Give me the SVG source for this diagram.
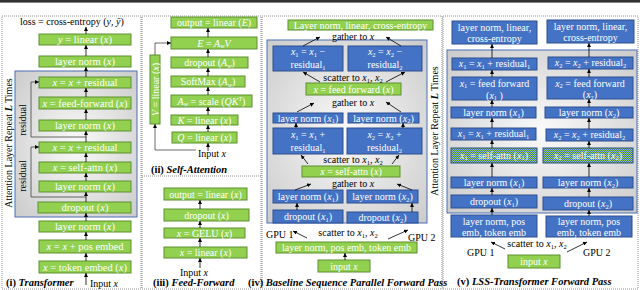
<svg xmlns="http://www.w3.org/2000/svg" width="640" height="290" viewBox="0 0 640 290">
<defs>
<style>
.g{fill:#92d050;stroke:#5e8f2f;stroke-width:1}
.b{fill:#4472c4;stroke:#2f4f8f;stroke-width:1}
.c{fill:url(#chk);stroke:#2f4f8f;stroke-width:1}
.reg{fill:url(#gr);stroke:#4a6fb5;stroke-width:1}
.pan{fill:none;stroke:#777;stroke-width:0.8;stroke-dasharray:1 1}
text{font-family:"Liberation Serif","Times New Roman",serif}
.t{font-size:10px;fill:#fff;text-anchor:middle}
.t1{font-size:10.5px;fill:#fff;text-anchor:middle}
.k{font-size:10px;fill:#000;text-anchor:middle}
.kl{font-size:10px;fill:#000}
.cap{font-size:10.5px;fill:#000;font-weight:bold}
.i{font-style:italic}
.s{font-size:6.5px}
.ln{fill:none;stroke:#000;stroke-width:0.8}
.lg{fill:none;stroke:#444;stroke-width:0.8}
</style>
<radialGradient id="gr" cx="0.5" cy="0.5" r="0.75">
<stop offset="0" stop-color="#fafafa"/>
<stop offset="1" stop-color="#c8c8c8"/>
</radialGradient>
<pattern id="chk" width="2" height="2" patternUnits="userSpaceOnUse">
<rect width="2" height="2" fill="#4472c4"/>
<rect width="1" height="1" fill="#92d050"/>
<rect x="1" y="1" width="1" height="1" fill="#92d050"/>
</pattern>
<marker id="a" viewBox="0 0 6 6" refX="6" refY="3" markerWidth="4" markerHeight="4" markerUnits="userSpaceOnUse" orient="auto">
<path d="M0,0 L6,3 L0,6 z" fill="#000"/>
</marker>
</defs>
<rect x="0" y="0" width="640" height="2.6" fill="#333"/>
<!-- panel borders -->
<rect class="pan" x="2" y="16" width="139" height="273"/>
<rect class="pan" x="142" y="16" width="119" height="273"/>
<line class="pan" x1="142" y1="176" x2="261" y2="176"/>
<rect class="pan" x="262" y="16" width="180" height="273"/>
<rect class="pan" x="443" y="16" width="195" height="273"/>

<!-- ================= Panel (i) ================= -->
<g id="p1-region"><rect class="reg" x="15" y="71" width="122" height="146"/></g>
<g id="p1-loss"><text class="kl" x="20" y="25" font-size="11.2">loss = cross-entropy (<tspan class="i">y</tspan>, <tspan class="i">ȳ</tspan>)</text></g>
<g id="p1-linear"><rect class="g" x="39" y="34" width="92" height="11"/><text class="t1" x="85" y="43"><tspan class="i">y</tspan> = linear (<tspan class="i">x</tspan>)</text></g>
<g id="p1-ln3"><rect class="g" x="39" y="56" width="92" height="11"/><text class="t1" x="85" y="65">layer norm (<tspan class="i">x</tspan>)</text></g>
<g id="p1-res2"><rect class="g" x="39" y="77" width="92" height="11"/><text class="t1" x="85" y="86"><tspan class="i">x</tspan> = <tspan class="i">x</tspan> + residual</text></g>
<g id="p1-ff"><rect class="g" x="39" y="97" width="92" height="12"/><text class="t1" x="85" y="106.5"><tspan class="i">x</tspan> = feed-forward (<tspan class="i">x</tspan>)</text></g>
<g id="p1-ln2"><rect class="g" x="39" y="120" width="92" height="11"/><text class="t1" x="85" y="129">layer norm (<tspan class="i">x</tspan>)</text></g>
<g id="p1-res1"><rect class="g" x="39" y="142" width="92" height="11"/><text class="t1" x="85" y="151"><tspan class="i">x</tspan> = <tspan class="i">x</tspan> + residual</text></g>
<g id="p1-sa"><rect class="g" x="39" y="162" width="92" height="11"/><text class="t1" x="85" y="171"><tspan class="i">x</tspan> = self-attn (<tspan class="i">x</tspan>)</text></g>
<g id="p1-ln1"><rect class="g" x="39" y="181" width="92" height="11"/><text class="t1" x="85" y="190">layer norm (<tspan class="i">x</tspan>)</text></g>
<g id="p1-drop"><rect class="g" x="38" y="202" width="93" height="11"/><text class="t1" x="85" y="211">dropout (<tspan class="i">x</tspan>)</text></g>
<g id="p1-ln0"><rect class="g" x="39" y="221" width="92" height="11"/><text class="t1" x="85" y="230">layer norm (<tspan class="i">x</tspan>)</text></g>
<g id="p1-pos"><rect class="g" x="39" y="240" width="92" height="13"/><text class="t1" x="85" y="250"><tspan class="i">x</tspan> = <tspan class="i">x</tspan> + pos embed</text></g>
<g id="p1-tok"><rect class="g" x="39" y="261" width="92" height="12"/><text class="t1" x="85" y="270.5"><tspan class="i">x</tspan> = token embed (<tspan class="i">x</tspan>)</text></g>
<g id="p1-labels">
<text class="kl" x="0" y="0" font-size="10.5" transform="translate(12,143) rotate(-90)" text-anchor="middle">Attention Layer Repeat <tspan class="i" font-weight="bold">L</tspan> Times</text>
<text class="kl" x="0" y="0" transform="translate(26,120) rotate(-90)" text-anchor="middle">residual</text>
<text class="kl" x="0" y="0" transform="translate(26,176) rotate(-90)" text-anchor="middle">residual</text>
<text class="cap" x="6" y="286">(i) <tspan class="i">Transformer</tspan></text>
<text class="kl" x="90" y="287">Input <tspan class="i">x</tspan></text>
</g>

<!-- ================= Panel (ii) ================= -->
<g id="p2-out"><rect class="g" x="171" y="17" width="86" height="11"/><text class="t" x="214" y="26">output = linear (<tspan class="i">E</tspan>)</text></g>
<g id="p2-e"><rect class="g" x="171" y="37" width="86" height="12"/><text class="t" x="214" y="46.5"><tspan class="i">E</tspan> = <tspan class="i">A</tspan><tspan class="i s" dy="1.5">w</tspan><tspan class="i" dy="-1.5">V</tspan></text></g>
<g id="p2-drop"><rect class="g" x="171" y="57" width="77" height="11"/><text class="t" x="209.5" y="66">dropout (<tspan class="i">A</tspan><tspan class="i s" dy="1.5">w</tspan><tspan dy="-1.5">)</tspan></text></g>
<g id="p2-sm"><rect class="g" x="171" y="76" width="74" height="11"/><text class="t" x="208" y="85">SoftMax (<tspan class="i">A</tspan><tspan class="i s" dy="1.5">w</tspan><tspan dy="-1.5">)</tspan></text></g>
<g id="p2-scale"><rect class="g" x="171" y="95" width="81" height="12"/><text class="t" x="211.5" y="104.5"><tspan class="i">A</tspan><tspan class="i s" dy="1.5">w</tspan><tspan dy="-1.5"> = scale (</tspan><tspan class="i">QK</tspan><tspan class="i s" dy="-3.5">T</tspan><tspan dy="3.5">)</tspan></text></g>
<g id="p2-k"><rect class="g" x="171" y="115" width="67" height="10"/><text class="t" x="204.5" y="123.5"><tspan class="i">K</tspan> = linear (<tspan class="i">x</tspan>)</text></g>
<g id="p2-q"><rect class="g" x="172" y="132" width="65" height="11"/><text class="t" x="204.5" y="141"><tspan class="i">Q</tspan> = linear (<tspan class="i">x</tspan>)</text></g>
<g id="p2-v"><rect class="g" x="150" y="55" width="10" height="69"/><text class="t" x="0" y="0" transform="translate(158.5,89.5) rotate(-90)"><tspan class="i">V</tspan> = linear (<tspan class="i">x</tspan>)</text></g>
<g id="p2-labels">
<text class="kl" x="198" y="157">Input <tspan class="i">x</tspan></text>
<text class="cap" x="151" y="173">(ii) <tspan class="i">Self-Attention</tspan></text>
</g>

<!-- ================= Panel (iii) ================= -->
<g id="p3-out"><rect class="g" x="164" y="188" width="83" height="12"/><text class="t" x="205.5" y="197.5">output = linear (<tspan class="i">x</tspan>)</text></g>
<g id="p3-drop"><rect class="g" x="164" y="209" width="85" height="12"/><text class="t" x="206.5" y="218.5">dropout (<tspan class="i">x</tspan>)</text></g>
<g id="p3-gelu"><rect class="g" x="164" y="228" width="81" height="10"/><text class="t" x="204.5" y="236.5"><tspan class="i">x</tspan> = GELU (<tspan class="i">x</tspan>)</text></g>
<g id="p3-lin"><rect class="g" x="164" y="247" width="83" height="11"/><text class="t" x="205.5" y="256"><tspan class="i">x</tspan> = linear (<tspan class="i">x</tspan>)</text></g>
<g id="p3-labels">
<text class="kl" x="180" y="276">Input <tspan class="i">x</tspan></text>
<text class="cap" x="153" y="286">(iii) <tspan class="i">Feed-Forward</tspan></text>
</g>

<!-- ================= Panel (iv) ================= -->
<g id="p4-region"><rect class="reg" x="267" y="40" width="160" height="183"/></g>
<g id="p4-top"><rect class="g" x="288" y="20" width="145" height="10"/><text class="t" x="360.5" y="28.5">Layer norm, linear, cross-entropy</text></g>
<g id="p4-r1a"><rect class="b" x="273" y="46" width="70" height="25"/><text class="t" x="308" y="55"><tspan class="i">x</tspan><tspan class="s" dy="1.5">1</tspan><tspan dy="-1.5"> = </tspan><tspan class="i">x</tspan><tspan class="s" dy="1.5">1</tspan><tspan dy="-1.5"> −</tspan></text><text class="t" x="308" y="68">residual<tspan class="s" dy="1.5">1</tspan></text></g>
<g id="p4-r1b"><rect class="b" x="348" y="46" width="74" height="25"/><text class="t" x="385" y="55"><tspan class="i">x</tspan><tspan class="s" dy="1.5">2</tspan><tspan dy="-1.5"> = </tspan><tspan class="i">x</tspan><tspan class="s" dy="1.5">2</tspan><tspan dy="-1.5"> −</tspan></text><text class="t" x="385" y="68">residual<tspan class="s" dy="1.5">2</tspan></text></g>
<g id="p4-ff"><rect class="g" x="306" y="83" width="95" height="12"/><text class="t" x="353.5" y="92.5"><tspan class="i">x</tspan> = feed forward (<tspan class="i">x</tspan>)</text></g>
<g id="p4-ln2a"><rect class="b" x="273" y="113" width="70" height="10"/><text class="t" x="308" y="121.5">layer norm (<tspan class="i">x</tspan><tspan class="s" dy="1.5">1</tspan><tspan dy="-1.5">)</tspan></text></g>
<g id="p4-ln2b"><rect class="b" x="348" y="113" width="71" height="10"/><text class="t" x="383.5" y="121.5">layer norm (<tspan class="i">x</tspan><tspan class="s" dy="1.5">2</tspan><tspan dy="-1.5">)</tspan></text></g>
<g id="p4-r0a"><rect class="b" x="273" y="128" width="70" height="26"/><text class="t" x="308" y="138"><tspan class="i">x</tspan><tspan class="s" dy="1.5">1</tspan><tspan dy="-1.5"> = </tspan><tspan class="i">x</tspan><tspan class="s" dy="1.5">1</tspan><tspan dy="-1.5"> +</tspan></text><text class="t" x="308" y="151">residual<tspan class="s" dy="1.5">1</tspan></text></g>
<g id="p4-r0b"><rect class="b" x="347" y="128" width="75" height="26"/><text class="t" x="384.5" y="138"><tspan class="i">x</tspan><tspan class="s" dy="1.5">2</tspan><tspan dy="-1.5"> = </tspan><tspan class="i">x</tspan><tspan class="s" dy="1.5">2</tspan><tspan dy="-1.5"> +</tspan></text><text class="t" x="384.5" y="151">residual<tspan class="s" dy="1.5">2</tspan></text></g>
<g id="p4-sa"><rect class="g" x="302" y="166" width="98" height="11"/><text class="t" x="351" y="175"><tspan class="i">x</tspan> = self-attn (<tspan class="i">x</tspan>)</text></g>
<g id="p4-ln1a"><rect class="b" x="273" y="190" width="70" height="13"/><text class="t" x="308" y="200">layer norm (<tspan class="i">x</tspan><tspan class="s" dy="1.5">1</tspan><tspan dy="-1.5">)</tspan></text></g>
<g id="p4-ln1b"><rect class="b" x="347" y="190" width="71" height="13"/><text class="t" x="382.5" y="200">layer norm (<tspan class="i">x</tspan><tspan class="s" dy="1.5">2</tspan><tspan dy="-1.5">)</tspan></text></g>
<g id="p4-da"><rect class="b" x="273" y="210" width="70" height="13"/><text class="t" x="308" y="220">dropout (<tspan class="i">x</tspan><tspan class="s" dy="1.5">1</tspan><tspan dy="-1.5">)</tspan></text></g>
<g id="p4-db"><rect class="b" x="347" y="212" width="71" height="11"/><text class="t" x="382.5" y="221">dropout (<tspan class="i">x</tspan><tspan class="s" dy="1.5">2</tspan><tspan dy="-1.5">)</tspan></text></g>
<g id="p4-emb"><rect class="g" x="276" y="242" width="141" height="11"/><text class="t" x="346.5" y="251">layer norm, pos emb, token emb</text></g>
<g id="p4-in"><rect class="g" x="318" y="260" width="52" height="12"/><text class="t" x="344" y="269.5">input <tspan class="i">x</tspan></text></g>
<g id="p4-labels">
<text class="k" x="353" y="40">gather to <tspan class="i">x</tspan></text>
<text class="k" x="353" y="81">scatter to <tspan class="i">x</tspan><tspan class="s" dy="1.5">1</tspan><tspan dy="-1.5">, </tspan><tspan class="i">x</tspan><tspan class="s" dy="1.5">2</tspan></text>
<text class="k" x="353" y="106">gather to <tspan class="i">x</tspan></text>
<text class="k" x="353" y="163">scatter to <tspan class="i">x</tspan><tspan class="s" dy="1.5">1</tspan><tspan dy="-1.5">, </tspan><tspan class="i">x</tspan><tspan class="s" dy="1.5">2</tspan></text>
<text class="k" x="353" y="187">gather to <tspan class="i">x</tspan></text>
<text class="k" x="348" y="236">scatter to <tspan class="i">x</tspan><tspan class="s" dy="1.5">1</tspan><tspan dy="-1.5">, </tspan><tspan class="i">x</tspan><tspan class="s" dy="1.5">2</tspan></text>
<text class="kl" x="266" y="238">GPU 1</text>
<text class="kl" x="408" y="241">GPU 2</text>
<text class="kl" x="0" y="0" font-size="10.5" transform="translate(438,131) rotate(-90)" text-anchor="middle">Attention Layer Repeat <tspan class="i" font-weight="bold">L</tspan> Times</text>
<text class="cap" x="248" y="286">(iv) <tspan class="i">Baseline Sequence Parallel Forward Pass</tspan></text>
</g>

<!-- ================= Panel (v) ================= -->
<g id="p5-region"><rect class="reg" x="447" y="50" width="190" height="163"/></g>
<g id="p5-topa"><rect class="b" x="452" y="21" width="85" height="23"/><text class="t" x="494.5" y="30.5">layer norm, linear,</text><text class="t" x="494.5" y="42">cross-entropy</text></g>
<g id="p5-topb"><rect class="b" x="547" y="20" width="87" height="23"/><text class="t" x="590.5" y="29.5">layer norm, linear,</text><text class="t" x="590.5" y="41">cross-entropy</text></g>
<g id="p5-r1a"><rect class="b" x="452" y="58" width="85" height="12"/><text class="t" x="494.5" y="67"><tspan class="i">x</tspan><tspan class="s" dy="1.5">1</tspan><tspan dy="-1.5"> = </tspan><tspan class="i">x</tspan><tspan class="s" dy="1.5">1</tspan><tspan dy="-1.5"> + residual</tspan><tspan class="s" dy="1.5">1</tspan></text></g>
<g id="p5-r1b"><rect class="b" x="548" y="57" width="85" height="12"/><text class="t" x="590.5" y="66"><tspan class="i">x</tspan><tspan class="s" dy="1.5">2</tspan><tspan dy="-1.5"> = </tspan><tspan class="i">x</tspan><tspan class="s" dy="1.5">2</tspan><tspan dy="-1.5"> + residual</tspan><tspan class="s" dy="1.5">2</tspan></text></g>
<g id="p5-ffa"><rect class="b" x="452" y="77" width="85" height="23"/><text class="t" x="494.5" y="86.5"><tspan class="i">x</tspan><tspan class="s" dy="1.5">1</tspan><tspan dy="-1.5"> = feed forward</tspan></text><text class="t" x="494.5" y="98.5">(<tspan class="i">x</tspan><tspan class="s" dy="1.5">1</tspan><tspan dy="-1.5"> )</tspan></text></g>
<g id="p5-ffb"><rect class="b" x="547" y="77" width="86" height="22"/><text class="t" x="590" y="86.5"><tspan class="i">x</tspan><tspan class="s" dy="1.5">2</tspan><tspan dy="-1.5"> = feed forward</tspan></text><text class="t" x="590" y="98">(<tspan class="i">x</tspan><tspan class="s" dy="1.5">2</tspan><tspan dy="-1.5">)</tspan></text></g>
<g id="p5-ln2a"><rect class="b" x="451" y="107" width="85" height="11"/><text class="t" x="493.5" y="116">layer norm (<tspan class="i">x</tspan><tspan class="s" dy="1.5">1</tspan><tspan dy="-1.5">)</tspan></text></g>
<g id="p5-ln2b"><rect class="b" x="545" y="107" width="88" height="11"/><text class="t" x="589" y="116">layer norm (<tspan class="i">x</tspan><tspan class="s" dy="1.5">2</tspan><tspan dy="-1.5">)</tspan></text></g>
<g id="p5-r0a"><rect class="b" x="451" y="128" width="85" height="12"/><text class="t" x="493.5" y="137"><tspan class="i">x</tspan><tspan class="s" dy="1.5">1</tspan><tspan dy="-1.5"> = </tspan><tspan class="i">x</tspan><tspan class="s" dy="1.5">1</tspan><tspan dy="-1.5"> + residual</tspan><tspan class="s" dy="1.5">1</tspan></text></g>
<g id="p5-r0b"><rect class="b" x="546" y="129" width="87" height="12"/><text class="t" x="589.5" y="138"><tspan class="i">x</tspan><tspan class="s" dy="1.5">2</tspan><tspan dy="-1.5"> = </tspan><tspan class="i">x</tspan><tspan class="s" dy="1.5">2</tspan><tspan dy="-1.5"> + residual</tspan><tspan class="s" dy="1.5">2</tspan></text></g>
<g id="p5-saa"><rect class="c" x="451" y="148" width="86" height="15"/><text class="t" x="494" y="158.5"><tspan class="i">x</tspan><tspan class="s" dy="1.5">1</tspan><tspan dy="-1.5"> = self-attn (</tspan><tspan class="i">x</tspan><tspan class="s" dy="1.5">1</tspan><tspan dy="-1.5">)</tspan></text></g>
<g id="p5-sab"><rect class="c" x="543" y="148" width="90" height="15"/><text class="t" x="588" y="158.5"><tspan class="i">x</tspan><tspan class="s" dy="1.5">2</tspan><tspan dy="-1.5"> = self-attn (</tspan><tspan class="i">x</tspan><tspan class="s" dy="1.5">2</tspan><tspan dy="-1.5">)</tspan></text></g>
<g id="p5-ln1a"><rect class="b" x="451" y="177" width="86" height="11"/><text class="t" x="494" y="186">layer norm (<tspan class="i">x</tspan><tspan class="s" dy="1.5">1</tspan><tspan dy="-1.5">)</tspan></text></g>
<g id="p5-ln1b"><rect class="b" x="543" y="177" width="90" height="11"/><text class="t" x="588" y="186">layer norm (<tspan class="i">x</tspan><tspan class="s" dy="1.5">2</tspan><tspan dy="-1.5">)</tspan></text></g>
<g id="p5-da"><rect class="b" x="451" y="195" width="86" height="13"/><text class="t" x="494" y="205">dropout (<tspan class="i">x</tspan><tspan class="s" dy="1.5">1</tspan><tspan dy="-1.5">)</tspan></text></g>
<g id="p5-db"><rect class="b" x="543" y="197" width="90" height="13"/><text class="t" x="588" y="207">dropout (<tspan class="i">x</tspan><tspan class="s" dy="1.5">2</tspan><tspan dy="-1.5">)</tspan></text></g>
<g id="p5-emba"><rect class="b" x="451" y="215" width="86" height="22"/><text class="t" x="494" y="224.5">layer norm, pos</text><text class="t" x="494" y="235.5">emb, token emb</text></g>
<g id="p5-embb"><rect class="b" x="546" y="216" width="86" height="21"/><text class="t" x="589" y="225">layer norm, pos</text><text class="t" x="589" y="235.5">emb, token emb</text></g>
<g id="p5-in"><rect class="g" x="508" y="255" width="52" height="13"/><text class="t" x="534" y="265">input <tspan class="i">x</tspan></text></g>
<g id="p5-labels">
<text class="k" x="537" y="247">scatter to <tspan class="i">x</tspan><tspan class="s" dy="1.5">1</tspan><tspan dy="-1.5">, </tspan><tspan class="i">x</tspan><tspan class="s" dy="1.5">2</tspan></text>
<text class="kl" x="467" y="256">GPU 1</text>
<text class="kl" x="583" y="256">GPU 2</text>
<text class="cap" x="457" y="285">(v) <tspan class="i">LSS-Transformer Forward Pass</tspan></text>
</g>

<!-- ================= Connectors ================= -->
<g id="connectors">
<!-- panel i -->
<line class="ln" x1="86" y1="285" x2="86" y2="273" marker-end="url(#a)"/>
<line class="ln" x1="86" y1="261" x2="86" y2="253" marker-end="url(#a)"/>
<line class="ln" x1="86" y1="240" x2="86" y2="232" marker-end="url(#a)"/>
<line class="ln" x1="86" y1="221" x2="86" y2="213" marker-end="url(#a)"/>
<line class="ln" x1="86" y1="202" x2="86" y2="192" marker-end="url(#a)"/>
<line class="ln" x1="86" y1="181" x2="86" y2="173" marker-end="url(#a)"/>
<line class="ln" x1="86" y1="162" x2="86" y2="153" marker-end="url(#a)"/>
<line class="ln" x1="86" y1="142" x2="86" y2="131" marker-end="url(#a)"/>
<line class="ln" x1="86" y1="120" x2="86" y2="109" marker-end="url(#a)"/>
<line class="ln" x1="86" y1="97" x2="86" y2="88" marker-end="url(#a)"/>
<line class="ln" x1="86" y1="77" x2="86" y2="67" marker-end="url(#a)"/>
<line class="ln" x1="86" y1="56" x2="86" y2="45" marker-end="url(#a)"/>
<line class="ln" x1="86" y1="34" x2="86" y2="27" marker-end="url(#a)"/>
<path class="lg" d="M86,137 H31 V82 H39" marker-end="url(#a)"/>
<path class="lg" d="M86,197 H31 V147 H39" marker-end="url(#a)"/>
<!-- panel ii -->
<line class="ln" x1="208" y1="151" x2="208" y2="143" marker-end="url(#a)"/>
<line class="ln" x1="208" y1="132" x2="208" y2="125" marker-end="url(#a)"/>
<line class="ln" x1="208" y1="115" x2="208" y2="107" marker-end="url(#a)"/>
<line class="ln" x1="208" y1="95" x2="208" y2="87" marker-end="url(#a)"/>
<line class="ln" x1="208" y1="76" x2="208" y2="68" marker-end="url(#a)"/>
<line class="ln" x1="208" y1="57" x2="208" y2="49" marker-end="url(#a)"/>
<line class="ln" x1="208" y1="37" x2="208" y2="28" marker-end="url(#a)"/>
<path class="lg" d="M196,150 H155 V124" marker-end="url(#a)"/>
<path class="lg" d="M155,55 V43 H171" marker-end="url(#a)"/>
<!-- panel iii -->
<line class="ln" x1="200" y1="268" x2="200" y2="258" marker-end="url(#a)"/>
<line class="ln" x1="200" y1="247" x2="200" y2="238" marker-end="url(#a)"/>
<line class="ln" x1="200" y1="228" x2="200" y2="221" marker-end="url(#a)"/>
<line class="ln" x1="200" y1="209" x2="200" y2="200" marker-end="url(#a)"/>
<!-- panel iv -->
<line class="ln" x1="303" y1="46" x2="320" y2="37" marker-end="url(#a)"/>
<line class="ln" x1="401" y1="46" x2="386" y2="37" marker-end="url(#a)"/>
<line class="ln" x1="320" y1="82" x2="303" y2="72" marker-end="url(#a)"/>
<line class="ln" x1="386" y1="82" x2="405" y2="72" marker-end="url(#a)"/>
<line class="ln" x1="297" y1="112" x2="314" y2="103" marker-end="url(#a)"/>
<line class="ln" x1="401" y1="112" x2="386" y2="102" marker-end="url(#a)"/>
<line class="ln" x1="296" y1="128" x2="296" y2="123" marker-end="url(#a)"/>
<line class="ln" x1="403" y1="128" x2="403" y2="123" marker-end="url(#a)"/>
<line class="ln" x1="308" y1="164" x2="301" y2="155" marker-end="url(#a)"/>
<line class="ln" x1="392" y1="164" x2="399" y2="155" marker-end="url(#a)"/>
<line class="ln" x1="295" y1="190" x2="311" y2="184" marker-end="url(#a)"/>
<line class="ln" x1="412" y1="190" x2="397" y2="184" marker-end="url(#a)"/>
<line class="ln" x1="297" y1="210" x2="297" y2="203" marker-end="url(#a)"/>
<line class="ln" x1="412" y1="212" x2="412" y2="203" marker-end="url(#a)"/>
<line class="ln" x1="307" y1="238" x2="293" y2="231" marker-end="url(#a)"/>
<line class="ln" x1="388" y1="239" x2="408" y2="230" marker-end="url(#a)"/>
<line class="ln" x1="345" y1="260" x2="345" y2="253" marker-end="url(#a)"/>
<!-- panel v -->
<line class="ln" x1="492" y1="58" x2="492" y2="44" marker-end="url(#a)"/>
<line class="ln" x1="589" y1="57" x2="589" y2="43" marker-end="url(#a)"/>
<line class="ln" x1="492" y1="77" x2="492" y2="70" marker-end="url(#a)"/>
<line class="ln" x1="589" y1="77" x2="589" y2="69" marker-end="url(#a)"/>
<line class="ln" x1="492" y1="107" x2="492" y2="100" marker-end="url(#a)"/>
<line class="ln" x1="589" y1="107" x2="589" y2="99" marker-end="url(#a)"/>
<line class="ln" x1="492" y1="128" x2="492" y2="118" marker-end="url(#a)"/>
<line class="ln" x1="589" y1="129" x2="589" y2="118" marker-end="url(#a)"/>
<line class="ln" x1="492" y1="148" x2="492" y2="140" marker-end="url(#a)"/>
<line class="ln" x1="589" y1="148" x2="589" y2="141" marker-end="url(#a)"/>
<line class="ln" x1="492" y1="177" x2="492" y2="163" marker-end="url(#a)"/>
<line class="ln" x1="589" y1="177" x2="589" y2="163" marker-end="url(#a)"/>
<line class="ln" x1="492" y1="195" x2="492" y2="188" marker-end="url(#a)"/>
<line class="ln" x1="589" y1="197" x2="589" y2="188" marker-end="url(#a)"/>
<line class="ln" x1="492" y1="215" x2="492" y2="208" marker-end="url(#a)"/>
<line class="ln" x1="589" y1="216" x2="589" y2="210" marker-end="url(#a)"/>
<line class="ln" x1="505" y1="249" x2="491" y2="242" marker-end="url(#a)"/>
<line class="ln" x1="567" y1="252" x2="587" y2="242" marker-end="url(#a)"/>
</g>
</svg>
